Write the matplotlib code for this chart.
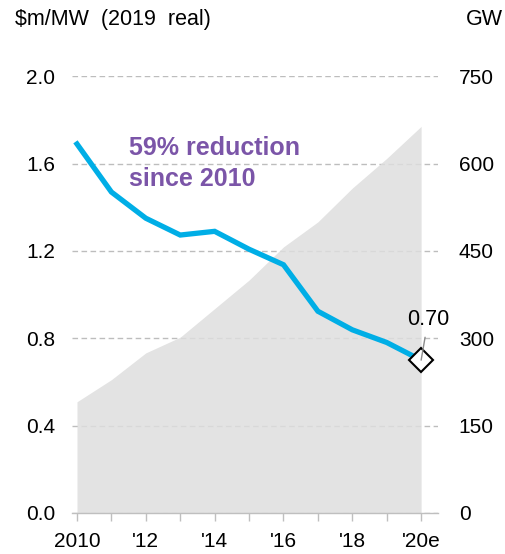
import matplotlib
matplotlib.use("Agg")
import matplotlib.pyplot as plt

plt.rcParams['font.family'] = ['Liberation Sans', 'DejaVu Sans']

years = [2010, 2011, 2012, 2013, 2014, 2015, 2016, 2017, 2018, 2019, 2020]
cost = [1.69, 1.47, 1.35, 1.273, 1.29, 1.208, 1.137, 0.924, 0.839, 0.781, 0.70]
capacity_gw = [191, 229, 275, 302, 351, 400, 457, 500, 558, 609, 664]
xtick_labels = ["2010", "", "'12", "", "'14", "", "'16", "", "'18", "", "'20e"]
left_ticks = [0.0, 0.4, 0.8, 1.2, 1.6, 2.0]
right_ticks = [0, 150, 300, 450, 600, 750]

W, H = 506, 554
fig = plt.figure(figsize=(W / 100, H / 100), dpi=100)
ax = fig.add_axes([72 / W, 41 / H, 366 / W, 436.7 / H])
ax2 = ax.twinx()

# area and grid on right axis
ax2.set_ylim(0, 750)
ax2.set_yticks(right_ticks)
ax2.set_yticklabels([str(t) for t in right_ticks])
ax2.set_axisbelow(True)
ax2.grid(axis='y', color='#bdbdbd', linestyle=(0, (4, 2.5)), linewidth=1.0)
ax2.fill_between(years, 0, capacity_gw, color='#dedede', alpha=0.85, linewidth=0, zorder=1)

# cost line on left axis, on top
ax.set_zorder(ax2.get_zorder() + 1)
ax.patch.set_visible(False)
ax.set_ylim(0, 2.0)
ax.set_yticks(left_ticks)
ax.set_yticklabels([f"{t:.1f}" for t in left_ticks])
ax.set_xlim(2009.855, 2020.49)
ax.set_xticks(years)
ax.set_xticklabels(xtick_labels)
ax.plot(years, cost, color='#00aee6', linewidth=3.8, solid_joinstyle='miter', zorder=3)
ax.plot([years[-1]], [cost[-1]], marker='D', markersize=12.5, markerfacecolor='white',
        markeredgecolor='black', markeredgewidth=1.5, linestyle='none', zorder=4)
ax.annotate(f"{cost[-1]:.2f}", xy=(years[-1], cost[-1]), xytext=(5, 29),
            textcoords='offset points', ha='center', va='center', fontsize=15.5,
            arrowprops=dict(arrowstyle='-', color='#8c8c8c', lw=1.0, shrinkA=3, shrinkB=0),
            zorder=5)

for a in (ax, ax2):
    for s in ['top', 'left', 'right', 'bottom']:
        a.spines[s].set_visible(False)
ax.spines['bottom'].set_visible(True)
ax.spines['bottom'].set_color('#bfbfbf')
ax.spines['bottom'].set_linewidth(1.0)

ax.tick_params(axis='x', length=6, width=1, color='#bfbfbf', labelsize=15, pad=8)
ax.tick_params(axis='y', length=0, labelsize=15, pad=12)
ax2.tick_params(axis='y', length=0, labelsize=15, pad=15)

fig.text(15 / W, 1 - 24.5 / H, "\\$m/MW  (2019  real)", fontsize=15.5, ha='left', va='baseline')
fig.text(503 / W, 1 - 25 / H, "GW", fontsize=15.5, ha='right', va='baseline')
fig.text(129 / W, 1 - 163.5 / H, "59% reduction\nsince 2010", fontsize=18, fontweight='bold',
         color='#7b55a8', ha='left', va='center', linespacing=1.32)

fig.savefig("out.png", dpi=100)
